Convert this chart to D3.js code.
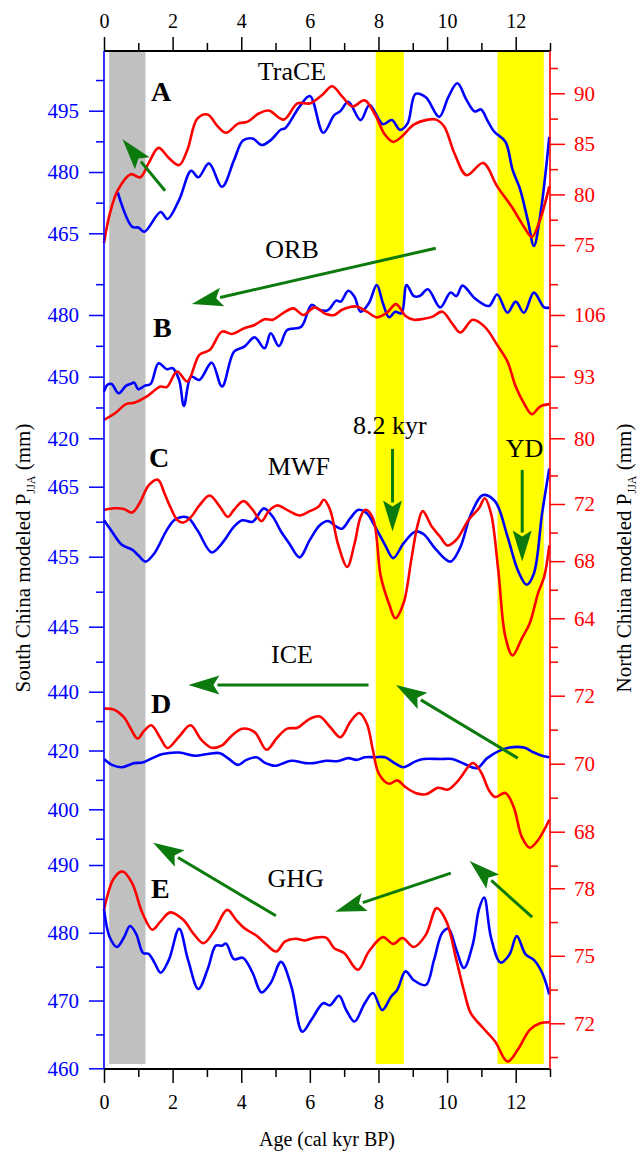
<!DOCTYPE html>
<html>
<head>
<meta charset="utf-8">
<script src="https://cdn.jsdelivr.net/npm/d3@7"></script>
<style>
body { margin: 0; background: #fff; }
svg { display: block; }
svg text { font-family: "Liberation Serif", "Times New Roman", Tinos, "DejaVu Serif", serif !important; }
</style>
</head>
<body>
<script>
// age axis (cal kyr BP)
const ageTicks = [0, 2, 4, 6, 8, 10, 12]
const ageMinor = [1, 3, 5, 7, 9, 11, 13]

// shaded periods
const grayBand = [0.15, 1.21]
const yellowBands = [[7.92, 8.74], [11.47, 12.82]]

// A: TraCE  [age, P_JJA]
const traceSouth = [[0.4,475],[0.82,466.6],[1.0,466.4],[1.18,465.4],[1.65,470.2],[1.85,468.5],[2.19,473.2],[2.54,480.3],[2.75,478.7],[3.06,482.1],[3.44,476.4],[3.79,482.9],[4.05,487.7],[4.33,488.2],[4.6,486.6],[4.86,487.8],[5.16,490.4],[5.28,490.7],[5.7,496],[6.0,498.6],[6.39,489.6],[6.71,493.9],[6.89,494.9],[7.12,497.2],[7.48,492.7],[7.74,496.4],[8.13,491.7],[8.39,492.7],[8.63,490.3],[8.85,491.9],[9.08,499.1],[9.38,498.3],[9.77,493.5],[10.04,498.4],[10.3,501.7],[10.57,497.6],[10.81,494.8],[10.99,495.3],[11.17,492.7],[11.37,489.9],[11.7,487.4],[11.91,480.5],[12.12,476],[12.36,467.9],[12.53,461.9],[12.71,469.1],[12.98,488.6]]
const traceNorth = [[0,75.2],[0.17,78.1],[0.4,80.4],[0.78,82],[1.06,81.7],[1.3,83.1],[1.59,84.6],[1.89,83.6],[2.19,82.9],[2.43,84.4],[2.72,87.5],[3.02,87.9],[3.32,86.7],[3.56,86.1],[3.91,87],[4.19,87.2],[4.51,88],[4.8,88.3],[5.24,87.4],[5.64,89],[6.0,89],[6.35,89.8],[6.65,90.7],[6.94,89.7],[7.24,88.7],[7.6,89.3],[7.9,87.9],[8.19,85.9],[8.43,85.2],[8.67,85.7],[9.03,86.9],[9.44,87.4],[9.68,87.4],[9.92,86.7],[10.21,84.1],[10.57,81.9],[11.05,83.1],[11.46,80.8],[11.88,78.8],[12.24,76.8],[12.47,75.8],[12.71,77.5],[12.98,80.8]]

// B: ORB
const orbSouth = [[0,442.7],[0.1,446],[0.22,446.4],[0.43,441.9],[0.64,445.5],[0.78,446.5],[0.88,447.1],[1.0,443.9],[1.18,445.5],[1.36,446.5],[1.59,456.5],[1.83,453.6],[2.0,454.1],[2.19,448.4],[2.33,435.8],[2.54,450],[2.78,448.4],[3.14,456.8],[3.44,445.2],[3.79,462.2],[4.09,464.6],[4.39,469.1],[4.68,463.8],[4.86,471.1],[5.1,464.9],[5.34,472.7],[5.75,474.3],[6.05,484.9],[6.29,482.4],[6.53,482.4],[6.77,487],[6.9,486.5],[7.12,491.8],[7.3,488.9],[7.48,481.6],[7.72,485.7],[7.95,494.6],[8.13,485.7],[8.31,478.9],[8.49,481.6],[8.67,480.8],[8.82,494.6],[9.03,489.2],[9.2,489.2],[9.44,492.5],[9.8,483.7],[10.1,490.9],[10.27,489.2],[10.45,494.3],[10.81,488.1],[11.22,484.4],[11.46,490],[11.76,481.1],[12.0,486.5],[12.24,481.1],[12.53,490.9],[12.83,483.7],[12.98,483.7]]
const orbNorth = [[0,83.9],[0.34,85.4],[0.64,87.2],[0.88,87.5],[1.24,88.8],[1.65,90.9],[1.83,90.8],[2.13,94.1],[2.43,92],[2.78,97.6],[3.08,98.6],[3.44,102.5],[3.73,102],[4.09,103.2],[4.39,103.9],[4.68,105.1],[4.92,105],[5.22,106.4],[5.52,107.4],[5.81,106],[6.14,107.6],[6.47,106.2],[6.71,106],[6.94,107.1],[7.36,107.8],[7.66,106.7],[7.95,105.5],[8.25,106.5],[8.51,108.3],[8.79,105.8],[9.03,105],[9.32,105.2],[9.56,105.6],[9.86,106.7],[10.15,104.2],[10.39,102.3],[10.75,105],[11.1,103.5],[11.46,99.7],[11.76,96.2],[12.0,90.9],[12.24,87.4],[12.47,85.1],[12.71,86.7],[12.98,87.2]]

// C: MWF
const mwfSouth = [[0,460.2],[0.23,458.6],[0.52,456.7],[0.82,456],[1.0,455.2],[1.21,454.3],[1.47,455.5],[1.83,458.8],[2.07,460.3],[2.43,460.6],[2.72,458.8],[3.14,455.6],[3.44,456.9],[3.79,459.3],[4.03,460.2],[4.33,460],[4.66,461.9],[4.92,460.7],[5.16,458.6],[5.4,456.9],[5.7,454.9],[6.0,457.4],[6.29,459.5],[6.53,460.1],[6.77,459.3],[6.94,459],[7.18,460.5],[7.42,461.7],[7.66,461.2],[7.9,459.3],[8.19,456.7],[8.43,454.8],[8.73,456.9],[9.08,458.6],[9.32,458.2],[9.68,456],[10.1,454.3],[10.39,456.4],[10.69,461],[11.05,463.8],[11.4,462.9],[11.76,457.9],[12.06,453.1],[12.32,451],[12.53,452.6],[12.77,461.2],[12.98,467.6]]
const mwfNorth = [[0,71.58],[0.29,71.7],[0.58,71.65],[0.82,71.4],[1.06,72.16],[1.3,73.3],[1.57,73.7],[1.77,72.7],[1.95,71.7],[2.13,70.9],[2.31,70.7],[2.54,71.1],[2.78,71.9],[3.08,72.6],[3.38,71.8],[3.61,71.1],[3.79,71.6],[4.07,72.2],[4.33,71.6],[4.59,70.8],[4.8,71.5],[5.04,71.9],[5.4,71.5],[5.7,71.2],[6.0,71.5],[6.25,71.8],[6.41,72.3],[6.59,71.6],[6.82,69.2],[7.09,67.6],[7.3,69.2],[7.48,71.1],[7.62,71.6],[7.84,71],[8.07,66.9],[8.31,65],[8.49,64],[8.73,65.05],[8.97,68.3],[9.14,70.5],[9.29,71.5],[9.56,70.4],[9.8,69.7],[10.01,69.1],[10.27,69.5],[10.63,70.9],[10.93,71.7],[11.1,72.4],[11.28,71.35],[11.49,67.4],[11.7,62.7],[11.91,61.4],[12.18,62.6],[12.41,63.65],[12.65,65.75],[12.83,66.9],[12.98,69.1]]

// D: ICE
const iceSouth = [[0,417.1],[0.23,415.1],[0.52,414.3],[0.88,415.7],[1.12,415.9],[1.41,417.4],[1.71,418.8],[2.19,419.3],[2.66,418.2],[3.02,418.8],[3.38,419.1],[3.61,417.4],[3.91,415.1],[4.15,416.8],[4.45,417.7],[4.68,415.9],[4.98,414.8],[5.46,416.5],[5.87,415.7],[6.11,415.7],[6.47,416.5],[6.83,416.4],[7.12,417.4],[7.36,416.8],[7.6,417.7],[7.9,417.7],[8.19,417.7],[8.47,415.7],[8.73,414.3],[9.08,416.3],[9.32,417.1],[9.8,417.1],[10.15,417.1],[10.51,415.4],[10.87,414],[11.17,417.4],[11.49,419.7],[11.82,421],[12.24,421],[12.53,419.3],[12.77,418.2],[12.98,417.7]]
const iceNorth = [[0,71.62],[0.29,71.59],[0.58,71.37],[0.78,71.03],[0.98,70.74],[1.18,70.98],[1.38,71.13],[1.65,70.74],[1.85,70.46],[2.19,70.8],[2.52,71.13],[2.84,70.7],[3.14,70.47],[3.44,70.54],[3.73,70.83],[4.03,71.03],[4.39,70.93],[4.74,70.41],[5.04,70.76],[5.34,71.03],[5.64,71.06],[6.0,71.32],[6.29,71.39],[6.59,71.08],[6.89,70.78],[7.18,71.23],[7.44,71.49],[7.66,71.18],[7.84,70.39],[8.01,69.71],[8.31,69.41],[8.55,69.51],[8.79,69.31],[9.08,69.14],[9.38,69.1],[9.74,69.29],[10.03,69.24],[10.33,69.51],[10.75,70.02],[10.99,69.75],[11.22,69.22],[11.4,69.02],[11.7,69.14],[11.94,68.73],[12.18,67.84],[12.41,67.53],[12.65,67.75],[12.98,68.35]]

// E: GHG
const ghgSouth = [[0,483.5],[0.17,479.3],[0.38,477.9],[0.58,479.3],[0.76,481],[0.94,479.8],[1.14,477],[1.3,476.9],[1.47,475.6],[1.65,474.1],[1.89,476],[2.19,480.6],[2.45,476],[2.75,471.7],[3.02,474.6],[3.26,478.1],[3.44,478.1],[3.56,478.4],[3.79,476.1],[4.05,476.3],[4.33,474.1],[4.59,471.2],[4.86,472.6],[5.16,475.7],[5.46,472.1],[5.78,465.4],[6.05,467.2],[6.39,469.6],[6.59,469.3],[6.85,470.7],[7.06,468.6],[7.3,466.9],[7.6,469.6],[7.84,471.1],[8.11,468.6],[8.37,470.6],[8.55,471.6],[8.79,474.3],[9.03,473],[9.38,472.3],[9.62,476],[9.86,480],[10.04,480.6],[10.27,477.5],[10.49,474.8],[10.75,478.3],[10.93,483.5],[11.08,485.2],[11.28,479.3],[11.56,475.6],[11.82,476.8],[12.03,479.5],[12.29,476.8],[12.53,476],[12.77,474.1],[12.98,470.9]]
const ghgNorth = [[0,77.04],[0.29,78.45],[0.55,78.75],[0.82,78.23],[1.12,76.9],[1.41,76.16],[1.65,76.53],[1.93,76.93],[2.31,76.6],[2.6,76.0],[2.9,75.56],[3.2,76.08],[3.59,77.04],[3.85,76.6],[4.09,76.23],[4.45,75.89],[4.74,75.49],[5.02,75.19],[5.28,75.64],[5.58,75.76],[5.85,75.68],[6.11,75.79],[6.47,75.81],[6.71,75.34],[7.0,75.12],[7.4,74.38],[7.72,75.19],[8.13,75.83],[8.43,75.53],[8.7,75.79],[9.03,75.39],[9.38,75.93],[9.7,77.12],[9.98,76.53],[10.27,74.82],[10.51,73.34],[10.69,72.45],[11.05,71.79],[11.4,71.19],[11.76,70.3],[12.06,70.82],[12.41,71.71],[12.71,72.0],[12.98,72.05]]

// tick values for each panel's two axes
const aLeftMajor = [465, 480, 495], aLeftMinor = [472.5, 487.5, 502.5]
const aRightMajor = [75, 80, 85, 90], aRightMinor = [77.5, 82.5, 87.5, 92.5]
const bLeftMajor = [420, 450, 480], bLeftMinor = [435, 465, 495]
const bRightMajor = [80, 93, 106], bRightMinor = [86.5, 99.5, 112.5]
const cLeftMajor = [445, 455, 465], cLeftMinor = [440, 450, 460]
const cRightMajor = [64, 68, 72], cRightMinor = [62, 66, 70, 74]
const dLeftMajor = [400, 420, 440], dLeftMinor = [390, 410, 430]
const dRightMajor = [68, 70, 72], dRightMinor = [67, 69, 71, 73]
const eLeftMajor = [460, 470, 480, 490], eLeftMinor = [465, 475, 485]
const eRightMajor = [72, 75, 78], eRightMinor = [70.5, 73.5, 76.5]

const W = 640, H = 1153
const plotTop = 51, plotBottom = 1069
const x = d3.scaleLinear([0, 13], [104, 550])
const BLUE = '#0000ff', RED = '#ff0000', GREEN = '#0c7a0c'
const SERIF = '"Liberation Serif", "Times New Roman", Tinos, "DejaVu Serif", serif'

const panels = [
  {key: 'A', south: traceSouth, north: traceNorth,
   yl: d3.scaleLinear([465, 495], [233.3, 110.7]), yr: d3.scaleLinear([75, 90], [245, 93.3]),
   lt: [aLeftMajor, aLeftMinor], rt: [aRightMajor, aRightMinor]},
  {key: 'B', south: orbSouth, north: orbNorth,
   yl: d3.scaleLinear([420, 480], [438.3, 315]), yr: d3.scaleLinear([80, 106], [438.3, 315]),
   lt: [bLeftMajor, bLeftMinor], rt: [bRightMajor, bRightMinor]},
  {key: 'C', south: mwfSouth, north: mwfNorth,
   yl: d3.scaleLinear([445, 465], [626.7, 486.7]), yr: d3.scaleLinear([64, 72], [618.3, 504]),
   lt: [cLeftMajor, cLeftMinor], rt: [cRightMajor, cRightMinor]},
  {key: 'D', south: iceSouth, north: iceNorth,
   yl: d3.scaleLinear([400, 440], [809.3, 691.7]), yr: d3.scaleLinear([68, 72], [831.7, 695.7]),
   lt: [dLeftMajor, dLeftMinor], rt: [dRightMajor, dRightMinor]},
  {key: 'E', south: ghgSouth, north: ghgNorth,
   yl: d3.scaleLinear([460, 490], [1068.3, 865]), yr: d3.scaleLinear([72, 78], [1023.3, 888.3]),
   lt: [eLeftMajor, eLeftMinor], rt: [eRightMajor, eRightMinor]}
]
const byKey = Object.fromEntries(panels.map(p => [p.key, p]))

// annotations, placed in age / south-China units of their panel
const labels = [
  {p: 'A', t: 'A', age: 1.37, v: 497.4, bold: true},
  {p: 'A', t: 'TraCE', age: 5.48, v: 502.5, mid: true},
  {p: 'B', t: 'ORB', age: 5.48, v: 507.7, mid: true},
  {p: 'B', t: 'B', age: 1.43, v: 469.3, bold: true},
  {p: 'C', t: '8.2 kyr', age: 8.33, v: 472.5, mid: true},
  {p: 'C', t: 'YD', age: 12.26, v: 469.2, mid: true},
  {p: 'C', t: 'C', age: 1.31, v: 467.8, bold: true},
  {p: 'C', t: 'MWF', age: 5.68, v: 466.7, mid: true},
  {p: 'D', t: 'ICE', age: 5.48, v: 449.8, mid: true},
  {p: 'D', t: 'D', age: 1.37, v: 432.8, bold: true},
  {p: 'E', t: 'GHG', age: 5.59, v: 486.8, mid: true},
  {p: 'E', t: 'E', age: 1.37, v: 485.1, bold: true}
]
const arrows = [
  {p: 'A', from: [1.78, 475.4], to: [0.54, 488]},
  {p: 'B', from: [9.67, 512.5], to: [2.56, 485.4]},
  {p: 'C', from: [8.41, 470.4], to: [8.41, 458.6]},
  {p: 'C', from: [12.19, 467.4], to: [12.19, 454.3]},
  {p: 'D', from: [7.71, 442.3], to: [2.46, 442.3]},
  {p: 'D', from: [12.06, 417.4], to: [8.51, 442.3]},
  {p: 'E', from: [5.01, 482.5], to: [1.43, 493.3]},
  {p: 'E', from: [10.11, 488.8], to: [6.74, 483.1]},
  {p: 'E', from: [12.48, 482.3], to: [10.66, 490.6]}
]

const svg = d3.select('body').append('svg').attr('width', W).attr('height', H)
  .attr('font-family', SERIF)

// bands
const bandG = svg.append('g')
bandG.append('rect').attr('x', x(grayBand[0])).attr('width', x(grayBand[1]) - x(grayBand[0]))
  .attr('y', plotTop).attr('height', 1064 - plotTop).attr('fill', '#c0c0c0')
bandG.selectAll('rect.y').data(yellowBands).enter().append('rect').attr('class', 'y')
  .attr('x', d => x(d[0])).attr('width', d => x(d[1]) - x(d[0]))
  .attr('y', plotTop).attr('height', 1064 - plotTop).attr('fill', '#ffff00')

// curves
const curveG = svg.append('g').attr('fill', 'none').attr('stroke-width', 2.6).attr('stroke-linejoin', 'round')
panels.forEach(p => {
  const ls = d3.line().x(d => x(d[0])).y(d => p.yl(d[1])).curve(d3.curveCatmullRom.alpha(0.5))
  const lr = d3.line().x(d => x(d[0])).y(d => p.yr(d[1])).curve(d3.curveCatmullRom.alpha(0.5))
  curveG.append('path').attr('d', ls(p.south)).attr('stroke', BLUE)
  curveG.append('path').attr('d', lr(p.north)).attr('stroke', RED)
})

// axes
function styleAxis(g, color, size) {
  g.attr('font-family', SERIF)
  g.selectAll('line').attr('stroke', color).attr('stroke-width', 1.5)
  g.selectAll('text').attr('fill', color).attr('font-size', size)
  g.select('.domain').remove()
}
const topAx = svg.append('g').attr('transform', `translate(0,${plotTop})`)
topAx.call(d3.axisTop(x).tickValues(ageTicks).tickSize(14).tickPadding(9).tickFormat(d3.format('d')))
  .call(g => styleAxis(g, '#000', 20))
topAx.append('g').call(d3.axisTop(x).tickValues(ageMinor).tickSize(8).tickFormat(''))
  .call(g => styleAxis(g, '#000', 20))
const botAx = svg.append('g').attr('transform', `translate(0,${plotBottom})`)
botAx.call(d3.axisBottom(x).tickValues(ageTicks).tickSize(14).tickPadding(12).tickFormat(d3.format('d')))
  .call(g => styleAxis(g, '#000', 20))
botAx.append('g').call(d3.axisBottom(x).tickValues(ageMinor).tickSize(8).tickFormat(''))
  .call(g => styleAxis(g, '#000', 20))

panels.forEach(p => {
  const gl = svg.append('g').attr('transform', `translate(${x(0)},0)`)
  gl.call(d3.axisLeft(p.yl).tickValues(p.lt[0]).tickSize(15).tickPadding(10).tickFormat(d3.format('d')))
    .call(g => styleAxis(g, BLUE, 21))
  gl.append('g').call(d3.axisLeft(p.yl).tickValues(p.lt[1]).tickSize(8).tickFormat(''))
    .call(g => styleAxis(g, BLUE, 21))
  const gr = svg.append('g').attr('transform', `translate(${x(13)},0)`)
  gr.call(d3.axisRight(p.yr).tickValues(p.rt[0]).tickSize(15).tickPadding(9).tickFormat(d3.format('d')))
    .call(g => styleAxis(g, RED, 21))
  gr.append('g').call(d3.axisRight(p.yr).tickValues(p.rt[1]).tickSize(8).tickFormat(''))
    .call(g => styleAxis(g, RED, 21))
})

// frame lines
svg.append('line').attr('x1', x(0)).attr('x2', x(13)).attr('y1', plotTop).attr('y2', plotTop)
  .attr('stroke', '#000').attr('stroke-width', 2)
svg.append('line').attr('x1', x(0)).attr('x2', x(13)).attr('y1', plotBottom).attr('y2', plotBottom)
  .attr('stroke', '#000').attr('stroke-width', 2)
svg.append('line').attr('x1', x(0)).attr('x2', x(0)).attr('y1', plotTop).attr('y2', plotBottom)
  .attr('stroke', BLUE).attr('stroke-width', 1.6)
svg.append('line').attr('x1', x(13)).attr('x2', x(13)).attr('y1', plotTop).attr('y2', plotBottom)
  .attr('stroke', RED).attr('stroke-width', 1.6)

// arrows
const arrG = svg.append('g')
arrows.forEach(a => {
  const p = byKey[a.p]
  const x1 = x(a.from[0]), y1 = p.yl(a.from[1]), x2 = x(a.to[0]), y2 = p.yl(a.to[1])
  const len = Math.hypot(x2 - x1, y2 - y1), ux = (x2 - x1) / len, uy = (y2 - y1) / len
  const hl = 31, hw = 9.5
  const bx = x2 - ux * hl, by = y2 - uy * hl
  arrG.append('line').attr('x1', x1).attr('y1', y1).attr('x2', bx + ux * 2).attr('y2', by + uy * 2)
    .attr('stroke', GREEN).attr('stroke-width', 3)
  arrG.append('polygon')
    .attr('points', [[x2, y2], [bx - uy * hw, by + ux * hw], [bx + ux * 6, by + uy * 6], [bx + uy * hw, by - ux * hw]].join(' '))
    .attr('fill', GREEN)
})

// text labels
svg.append('g').selectAll('text').data(labels).enter().append('text')
  .attr('x', d => x(d.age)).attr('y', d => byKey[d.p].yl(d.v))
  .attr('text-anchor', d => d.mid ? 'middle' : 'start')
  .attr('font-size', d => d.bold ? 28 : 26)
  .attr('font-weight', d => d.bold ? 'bold' : 'normal')
  .text(d => d.t)

// axis titles
svg.append('text').attr('x', x(6.5)).attr('y', 1146).attr('text-anchor', 'middle')
  .attr('font-size', 20).text('Age (cal kyr BP)')
function sideTitle(tx, name) {
  const t = svg.append('text').attr('transform', `translate(${tx},558) rotate(-90)`)
    .attr('text-anchor', 'middle').attr('font-size', 21)
  t.append('tspan').text(name + ' modeled P')
  t.append('tspan').attr('font-size', 12).attr('dy', 5).text('JJA')
  t.append('tspan').attr('dy', -5).text(' (mm)')
}
sideTitle(30, 'South China')
sideTitle(631, 'North China')
</script>
</body>
</html>
